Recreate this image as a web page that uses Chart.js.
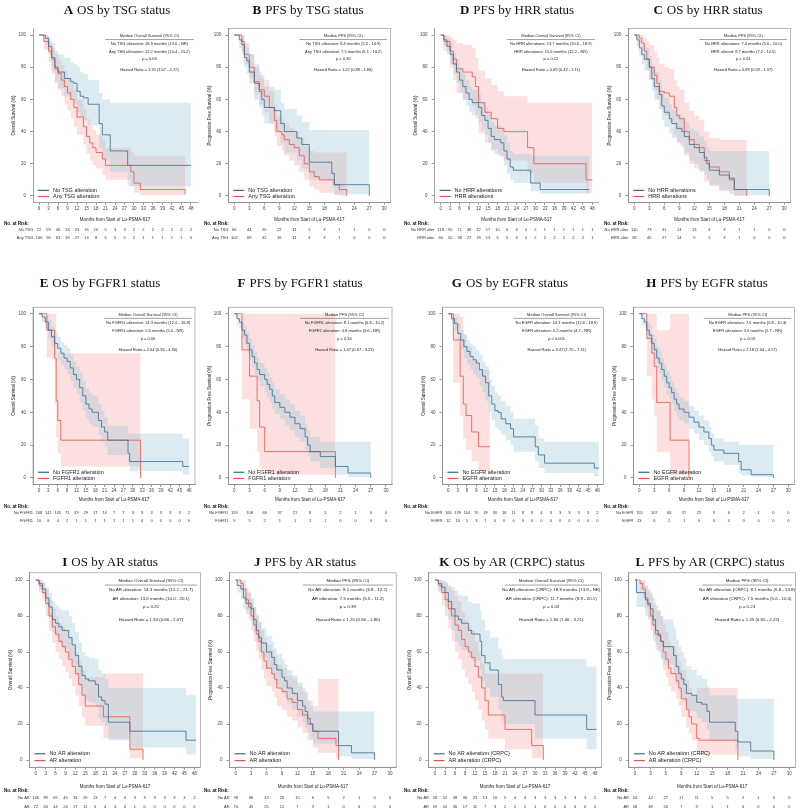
<!DOCTYPE html>
<html>
<head>
<meta charset="utf-8">
<script src="https://cdn.jsdelivr.net/npm/chart.js@4.4.1/dist/chart.umd.min.js"></script>
<style>
  html, body { margin: 0; padding: 0; background: #fff; width: 800px; height: 812px; overflow: hidden; position: relative; }
  canvas { position: absolute; }
  .ttl { position: absolute; font-family: "Liberation Serif", "Times New Roman", serif; font-size: 13px; color: #111;
         white-space: nowrap; transform: translate(-50%, -50%); }
  .ttl b { margin-right: 4px; }
</style>
</head>
<body>
<script>
// axes
const xTicks48 = [0, 3, 6, 9, 12, 15, 18, 21, 24, 27, 30, 33, 36, 39, 42, 45, 48];
const xTicks30 = [0, 3, 6, 9, 12, 15, 18, 21, 24, 27, 30];
const yTicks = [0, 20, 40, 60, 80, 100];

// A  OS by TSG
const tA1 = [0, 2, 3, 4, 5, 6, 8, 10, 11, 12, 13, 14, 15.5, 19, 20, 22.5, 28, 48];
const sA1 = [100, 98, 93, 86, 80, 77, 73, 71, 70, 65, 62, 61, 57, 45, 38, 28, 19, 19];
const loA1 = [100, 94, 88, 78, 71, 67, 62, 60, 57, 52, 49, 47, 44, 30, 22, 15, 6, 6];
const hiA1 = [100, 100, 99, 95, 90, 88, 86, 83, 82, 80, 77, 76, 72, 64, 60, 58, 58, 58];
const tA2 = [0, 1.5, 3, 4, 5, 6, 7, 8, 9, 10, 11, 12, 14, 15, 16, 17, 18, 20, 21, 29, 30, 32, 46.2];
const sA2 = [100, 96, 90, 85, 79, 76, 72, 68, 64, 60, 55, 49, 43, 37, 33, 30, 27, 23, 19, 15, 8, 4, 1];
const loA2 = [100, 91, 83, 76, 70, 66, 62, 57, 53, 48, 43, 38, 32, 26, 22, 19, 17, 13, 10, 6, 2, 0.5, 0];
const hiA2 = [100, 100, 96, 92, 88, 85, 81, 78, 74, 70, 66, 60, 54, 48, 44, 41, 38, 35, 30, 27, 25, 25, 25];
const riskA1 = [72, 59, 46, 34, 23, 16, 10, 5, 3, 3, 2, 2, 2, 2, 2, 2, 2];
const riskA2 = [106, 90, 63, 39, 27, 14, 8, 6, 5, 5, 2, 1, 1, 1, 1, 1, 0];
const annA = ['Median Overall Survival (95% CI)', 'No TSG alteration: 18.9 months (13.6 - NR)', 'Any TSG alteration: 12.2 months (10.4 - 15.2)', 'p = 0.03', 'Hazard Ratio = 1.70 (1.07 - 2.72)'];

// B  PFS by TSG
const tB1 = [0, 1, 1.5, 2, 2.5, 3, 4, 5, 5.5, 6, 8, 9.3, 10, 12.5, 13.5, 15, 19.5, 20, 27];
const sB1 = [100, 97, 94, 86, 84, 77, 70, 65, 60, 55, 53, 45, 40, 36, 32, 21, 14, 7, 0];
const loB1 = [100, 92, 88, 80, 76, 70, 60, 55, 50, 45, 40, 33, 27, 22, 17, 10, 5, 1, 0];
const hiB1 = [100, 100, 99, 94, 92, 88, 82, 77, 73, 68, 66, 58, 54, 50, 46, 41, 41, 41, 41];
const tB2 = [0, 1.5, 2, 3, 4, 5, 6, 7, 8, 8.5, 9.5, 10, 11, 12, 13, 14, 15, 16, 17, 20, 21, 22.5];
const sB2 = [100, 96, 88, 80, 71, 66, 62, 55, 47, 40, 38, 35, 32, 30, 25, 20, 15, 12, 10, 7, 4, 0];
const loB2 = [100, 90, 82, 73, 63, 57, 52, 45, 37, 31, 28, 25, 22, 19, 15, 10, 6, 4, 2, 0.5, 0, 0];
const hiB2 = [100, 100, 95, 88, 80, 75, 72, 65, 57, 50, 48, 45, 42, 40, 36, 31, 28, 27, 27, 27, 27, 27];
const riskB1 = [66, 44, 26, 22, 11, 5, 3, 1, 1, 0, 0];
const riskB2 = [102, 69, 42, 16, 11, 4, 3, 1, 0, 0, 0];
const annB = ['Median PFS (95% CI)', 'No TSG alteration: 8.4 months (5.2 - 14.9)', 'Any TSG alteration: 7.5 months (6.1 - 10.2)', 'p = 0.35', 'Hazard Ratio = 1.22 (0.88 - 1.84)'];

// D  "PFS" by HRR (OS axis)
const tD1 = [0, 1, 2, 3, 4, 5, 6, 7, 8, 9, 10, 12, 13, 14, 15, 16, 17, 19, 20, 21, 22, 23, 28.5, 31.5, 47];
const sD1 = [100, 97, 93, 88, 82, 77, 72, 68, 64, 60, 58, 55, 50, 47, 42, 37, 35, 33, 28, 23, 18, 16, 8, 4, 4];
const loD1 = [100, 93, 88, 82, 76, 70, 64, 60, 56, 52, 50, 46, 41, 38, 33, 28, 26, 24, 19, 14, 10, 8, 3, 1.5, 1.5];
const hiD1 = [100, 100, 98, 94, 89, 85, 80, 76, 72, 68, 66, 63, 58, 55, 51, 46, 44, 42, 38, 33, 28, 26, 25, 25, 25];
const tD2 = [0, 1, 3, 4, 5, 7, 10, 11, 12, 14, 16, 18, 20, 27.5, 29.5, 46, 48];
const sD2 = [100, 96, 90, 85, 79, 77, 74, 68, 58, 52, 48, 42, 40, 30, 20, 10, 10];
const loD2 = [100, 90, 80, 72, 64, 60, 56, 48, 39, 33, 29, 25, 22, 14, 8, 2, 2];
const hiD2 = [100, 100, 99, 97, 95, 94, 92, 86, 78, 73, 69, 65, 62, 58, 58, 58, 58];
const riskD1 = [118, 90, 71, 48, 32, 17, 10, 6, 4, 4, 2, 1, 1, 1, 1, 1, 1];
const riskD2 = [60, 50, 38, 27, 18, 13, 6, 5, 4, 4, 2, 2, 2, 2, 2, 2, 1];
const annD = ['Median Overall Survival (95% CI)', 'No HRR alterations: 13.7 months (10.6 - 18.9)', 'HRR alterations: 15.6 months (12.2 - NR)', 'p = 0.12', 'Hazard Ratio = 0.69 (0.42 - 1.11)'];

// C  "OS" by HRR (PFS axis)
const tC1 = [0, 0.5, 1, 1.5, 2, 3, 3.5, 4, 5, 5.5, 6, 7, 7.5, 8.5, 9.5, 10, 11, 12, 13, 14, 14.5, 15, 17, 19, 20, 27];
const sC1 = [100, 97, 92, 88, 85, 80, 73, 68, 63, 56, 52, 48, 45, 42, 40, 37, 32, 30, 27, 24, 20, 16, 13, 11, 4, 0];
const loC1 = [100, 93, 87, 82, 78, 72, 65, 60, 54, 47, 43, 39, 36, 33, 30, 27, 22, 20, 16, 13, 10, 7, 4, 3, 0.5, 0];
const hiC1 = [100, 100, 97, 94, 92, 87, 81, 77, 72, 65, 61, 57, 54, 51, 49, 46, 42, 40, 37, 34, 30, 28, 28, 28, 28, 28];
const tC2 = [0, 1, 1.5, 2, 2.5, 3, 4, 4.5, 5, 6, 7, 8, 8.5, 9, 10, 11, 12, 13, 14, 15, 17, 19, 20, 22.5];
const sC2 = [100, 98, 95, 90, 85, 80, 75, 70, 65, 64, 62, 55, 50, 48, 40, 35, 32, 30, 22, 18, 15, 10, 4, 0];
const loC2 = [100, 95, 90, 84, 78, 72, 65, 60, 54, 50, 46, 38, 34, 32, 25, 20, 17, 15, 9, 6, 3, 1, 0, 0];
const hiC2 = [100, 100, 100, 98, 96, 94, 90, 86, 82, 80, 79, 72, 68, 66, 58, 53, 50, 47, 40, 36, 35, 35, 35, 35];
const riskC1 = [110, 73, 41, 24, 13, 4, 3, 1, 1, 0, 0];
const riskC2 = [58, 40, 27, 14, 9, 5, 3, 1, 0, 0, 0];
const annC = ['Median PFS (95% CI)', 'No HRR alterations: 7.4 months (5.6 - 10.0)', 'HRR altered: 8.7 months (7.2 - 14.5)', 'p = 0.61', 'Hazard Ratio = 0.89 (0.59 - 1.37)'];

// E  OS by FGFR1
const tE1 = [0, 1, 2, 3, 4, 5, 6, 7, 8, 9, 10, 11, 12, 13, 14, 15, 16, 17, 19, 20, 21, 22, 28.5, 29, 46, 48];
const sE1 = [100, 98, 95, 90, 86, 82, 79, 76, 73, 71, 67, 63, 60, 55, 50, 45, 42, 40, 35, 31, 28, 23, 15, 10, 7, 7];
const loE1 = [100, 95, 91, 85, 80, 76, 72, 69, 66, 63, 59, 55, 51, 46, 41, 36, 33, 31, 26, 22, 19, 14, 8, 4, 2, 2];
const hiE1 = [100, 100, 99, 96, 92, 89, 86, 83, 81, 79, 75, 71, 68, 64, 59, 55, 52, 50, 45, 41, 37, 32, 27, 27, 24, 24];
const tE2 = [0, 2.5, 5, 5.5, 6, 7, 32.5];
const sE2 = [100, 90, 73, 47, 35, 23, 0];
const loE2 = [100, 73, 45, 25, 15, 7, 0];
const hiE2 = [100, 100, 100, 76, 76, 76, 76];
const riskE1 = [168, 141, 105, 71, 49, 29, 17, 10, 7, 7, 3, 3, 3, 3, 3, 3, 2];
const riskE2 = [10, 8, 4, 2, 1, 1, 1, 1, 1, 1, 1, 0, 0, 0, 0, 0, 0];
const annE = ['Median Overall Survival (95% CI)', 'No FGFR1 alteration: 14.3 months (12.6 - 16.8)', 'FGFR1 alteration: 5.6 months (5.0 - NR)', 'p = 0.06', 'Hazard Ratio = 2.04 (0.96 - 4.30)'];

// F  PFS by FGFR1
const tF1 = [0, 0.5, 1, 1.5, 2, 2.5, 3, 3.5, 4, 4.5, 5, 6, 6.5, 7, 7.5, 8, 9, 10, 11, 12, 13, 14, 14.5, 15, 17, 20, 22.5, 27];
const sF1 = [100, 97, 95, 90, 87, 82, 78, 74, 70, 66, 63, 60, 57, 54, 50, 46, 43, 40, 37, 33, 30, 25, 20, 16, 13, 7, 3, 0];
const loF1 = [100, 93, 91, 85, 81, 76, 72, 67, 63, 59, 56, 52, 49, 46, 42, 39, 36, 32, 29, 25, 22, 17, 13, 10, 6, 2, 0.5, 0];
const hiF1 = [100, 100, 99, 95, 93, 89, 85, 81, 77, 73, 70, 67, 64, 61, 58, 54, 51, 48, 45, 41, 38, 33, 29, 25, 22, 22, 22, 22];
const tF2 = [0, 1.5, 3, 4.5, 5, 6, 20];
const sF2 = [100, 78, 62, 47, 31, 16, 0];
const loF2 = [100, 48, 30, 16, 6, 2, 0];
const hiF2 = [100, 100, 100, 100, 100, 100, 100];
const riskF1 = [159, 108, 66, 37, 21, 8, 5, 2, 1, 0, 0];
const riskF2 = [9, 5, 2, 1, 1, 1, 1, 0, 0, 0, 0];
const annF = ['Median PFS (95% CI)', 'No FGFR1 alteration: 8.1 months (6.8 - 10.2)', 'FGFR1 alteration: 4.8 months (3.6 - NR)', 'p = 0.34', 'Hazard Ratio = 1.47 (0.67 - 3.23)'];

// G  OS by EGFR
const tG1 = [0, 1, 2, 3, 4, 5, 6, 7, 8, 9, 10, 11, 12, 13, 14, 15, 16, 17, 18.5, 20, 21, 28, 29, 31, 47, 48.5];
const sG1 = [100, 97, 94, 88, 84, 80, 77, 74, 72, 70, 66, 62, 58, 50, 45, 41, 40, 36, 33, 30, 25, 19, 14, 9, 6, 6];
const loG1 = [100, 94, 90, 84, 78, 73, 69, 66, 63, 61, 56, 52, 47, 40, 35, 31, 29, 26, 23, 20, 16, 10, 6, 3, 1, 1];
const hiG1 = [100, 100, 98, 94, 90, 87, 84, 82, 80, 78, 75, 71, 68, 60, 56, 52, 50, 47, 44, 40, 36, 32, 24, 22, 22, 22];
const tG2 = [0, 1.6, 3.8, 4.8, 5.7, 7.5, 9.7, 13.4];
const sG2 = [100, 84, 62, 45, 38, 28, 19, 19];
const loG2 = [100, 58, 38, 24, 17, 10, 4, 4];
const hiG2 = [100, 100, 98, 88, 80, 72, 66, 66];
const riskG1 = [166, 139, 104, 70, 49, 30, 18, 11, 8, 8, 4, 3, 3, 3, 3, 3, 2];
const riskG2 = [12, 10, 5, 3, 1, 0, 0, 0, 0, 0, 0, 0, 0, 0, 0, 0, 0];
const annG = ['Median Overall Survival (95% CI)', 'No EGFR alteration: 14.3 months (12.6 - 18.9)', 'EGFR alteration: 5.2 months (4.7 - NR)', 'p < 0.001', 'Hazard Ratio = 3.47 (1.70 - 7.11)'];

// H  PFS by EGFR
const tH1 = [0, 0.5, 1, 1.5, 2, 2.5, 3, 3.5, 4, 4.5, 5, 5.5, 6, 6.5, 7, 7.5, 8, 9, 10, 11, 12, 13, 14, 14.5, 15, 17, 20, 20.5, 22.5, 27];
const sH1 = [100, 97, 95, 90, 87, 82, 78, 73, 70, 66, 62, 58, 55, 52, 48, 45, 42, 40, 37, 34, 31, 28, 24, 20, 17, 15, 10, 5, 2, 0];
const loH1 = [100, 93, 91, 85, 82, 76, 72, 67, 63, 59, 55, 51, 48, 45, 41, 38, 35, 33, 30, 27, 23, 20, 16, 13, 10, 8, 3, 1.5, 0.5, 0];
const hiH1 = [100, 100, 99, 95, 93, 88, 85, 80, 77, 73, 69, 65, 62, 59, 55, 52, 49, 47, 44, 41, 38, 35, 31, 27, 24, 22, 20, 20, 20, 20];
const tH2 = [0, 1.5, 2.5, 3, 3.5, 6.2, 10];
const sH2 = [100, 85, 76, 68, 46, 23, 0];
const loH2 = [100, 62, 48, 38, 16, 2, 0];
const hiH2 = [100, 100, 100, 100, 90, 100, 100];
const riskH1 = [155, 107, 66, 37, 22, 9, 6, 2, 1, 0, 0];
const riskH2 = [13, 6, 2, 1, 0, 0, 0, 0, 0, 0, 0];
const annH = ['Median PFS (95% CI)', 'No EGFR alteration: 7.6 months (6.8 - 10.3)', 'EGFR alteration: 3.6 months (2.7 - NR)', 'p = 0.03', 'Hazard Ratio = 2.18 (1.04 - 4.57)'];

// I  OS by AR
const tI1 = [0, 1, 2, 3, 4, 5, 6, 7, 8, 10, 11, 12, 13, 14, 15, 16, 18, 19, 20, 21, 22, 28.5, 45.5, 48.5];
const sI1 = [100, 98, 95, 90, 85, 78, 76, 74, 72, 68, 64, 58, 52, 47, 45, 44, 42, 35, 33, 31, 21, 16, 11, 11];
const loI1 = [100, 95, 92, 86, 80, 71, 68, 65, 62, 57, 53, 47, 41, 36, 33, 32, 30, 23, 21, 19, 11, 7, 3, 3];
const hiI1 = [100, 100, 99, 96, 93, 88, 86, 84, 83, 80, 76, 71, 65, 60, 58, 57, 56, 50, 48, 45, 40, 40, 36, 36];
const tI2 = [0, 1, 2, 3, 4, 5, 6, 7, 8, 9, 10, 11, 12, 13, 14, 15, 20.5, 28.5, 32.5];
const sI2 = [100, 97, 93, 87, 80, 74, 70, 66, 63, 60, 56, 52, 48, 42, 36, 30, 24, 6, 0];
const loI2 = [100, 93, 88, 80, 72, 65, 60, 56, 52, 49, 45, 41, 36, 30, 24, 19, 12, 1, 0];
const hiI2 = [100, 100, 98, 95, 89, 84, 80, 76, 74, 72, 68, 64, 60, 55, 50, 46, 48, 48, 48];
const riskI1 = [106, 89, 65, 49, 33, 19, 13, 7, 4, 4, 3, 3, 3, 3, 3, 3, 2];
const riskI2 = [72, 60, 44, 24, 17, 11, 5, 4, 4, 4, 1, 0, 0, 0, 0, 0, 0];
const annI = ['Median Overall Survival (95% CI)', 'No AR alteration: 14.3 months (12.2 - 21.7)', 'AR alteration: 13.6 months (10.0 - 20.1)', 'p = 0.20', 'Hazard Ratio = 1.34 (0.86 - 2.07)'];

// J  PFS by AR
const tJ1 = [0, 0.3, 1, 1.5, 2, 3, 3.5, 4, 4.5, 5, 6, 7, 7.5, 8, 9, 9.5, 10, 11, 12, 13, 13.5, 14, 14.5, 15, 20, 22.5, 27];
const sJ1 = [100, 97, 95, 90, 87, 84, 78, 72, 68, 65, 60, 57, 53, 50, 46, 44, 40, 37, 33, 30, 27, 23, 20, 16, 8, 4, 0];
const loJ1 = [100, 93, 90, 84, 81, 77, 71, 65, 60, 57, 51, 47, 44, 41, 37, 35, 31, 28, 24, 21, 18, 15, 12, 9, 2, 0.5, 0];
const hiJ1 = [100, 100, 99, 95, 93, 90, 85, 80, 76, 73, 69, 66, 62, 59, 56, 53, 50, 47, 43, 40, 37, 33, 30, 27, 27, 27, 27];
const tJ2 = [0, 1, 1.5, 2, 2.5, 3, 3.5, 4, 4.5, 5, 5.5, 6, 7, 7.5, 8, 9, 10, 11, 12, 13, 14, 15, 16, 19.5, 20];
const sJ2 = [100, 98, 95, 89, 85, 80, 75, 70, 66, 60, 55, 51, 48, 45, 40, 38, 34, 32, 28, 25, 20, 16, 12, 8, 0];
const loJ2 = [100, 94, 90, 83, 78, 72, 66, 61, 56, 50, 45, 41, 38, 35, 30, 28, 24, 22, 18, 15, 11, 7, 4, 1, 0];
const hiJ2 = [100, 100, 100, 96, 93, 89, 85, 81, 77, 72, 68, 64, 61, 58, 53, 51, 47, 45, 41, 38, 33, 30, 45, 45, 45];
const riskJ1 = [98, 68, 43, 26, 15, 6, 5, 2, 1, 0, 0];
const riskJ2 = [70, 45, 25, 12, 7, 3, 1, 0, 0, 0, 0];
const annJ = ['Median PFS (95% CI)', 'No AR alteration: 8.1 months (6.8 - 12.2)', 'AR alteration: 7.5 months (5.5 - 11.2)', 'p = 0.39', 'Hazard Ratio = 1.20 (0.80 - 1.80)'];

// K  OS by AR (CRPC)
const tK1 = [0, 1, 2, 3, 4, 5, 6, 7, 8, 10, 11, 13.5, 14, 15, 16.5, 19, 20, 20.5, 30, 45.5, 48.5];
const sK1 = [100, 98, 96, 93, 88, 84, 80, 78, 76, 72, 70, 66, 58, 54, 50, 42, 35, 33, 25, 17, 17];
const loK1 = [100, 94, 92, 85, 78, 72, 66, 63, 61, 57, 55, 50, 44, 40, 35, 28, 22, 20, 12, 6, 6];
const hiK1 = [100, 100, 100, 99, 97, 96, 94, 92, 91, 88, 87, 83, 78, 72, 68, 62, 58, 56, 56, 52, 52];
const tK2 = [0, 1, 2, 3, 4, 5, 6, 7, 8, 9, 10, 11, 12, 13, 14, 15, 16, 21, 29, 32.5];
const sK2 = [100, 97, 93, 89, 84, 80, 75, 72, 67, 63, 60, 57, 52, 46, 40, 33, 25, 17, 8, 0];
const loK2 = [100, 93, 86, 80, 73, 66, 60, 56, 50, 46, 42, 38, 33, 28, 22, 17, 12, 6, 1, 0];
const hiK2 = [100, 100, 99, 98, 96, 94, 91, 88, 82, 78, 75, 72, 66, 60, 54, 48, 48, 48, 48, 48];
const riskK1 = [58, 52, 38, 30, 23, 13, 10, 5, 4, 4, 3, 3, 3, 3, 3, 3, 2];
const riskK2 = [59, 50, 36, 17, 11, 7, 3, 2, 2, 2, 1, 0, 0, 0, 0, 0, 0];
const annK = ['Median Overall Survival (95% CI)', 'No AR alteration (CRPC): 18.9 months (13.9 - NR)', 'AR alteration (CRPC): 11.7 months (8.9 - 20.1)', 'p = 0.03', 'Hazard Ratio = 1.84 (1.06 - 3.21)'];

// L  PFS by AR (CRPC)
const tL1 = [0, 0.3, 2, 2.5, 3, 3.5, 4, 4.5, 5, 5.5, 7.5, 8, 8.5, 9, 9.5, 10, 11, 12, 13, 14, 14.5, 19.5, 20, 22.5, 27];
const sL1 = [100, 93, 89, 87, 84, 78, 72, 69, 66, 63, 58, 52, 48, 45, 42, 37, 36, 32, 31, 27, 21, 16, 10, 5, 0];
const loL1 = [100, 85, 80, 78, 75, 69, 64, 60, 57, 53, 48, 42, 38, 35, 32, 28, 27, 23, 21, 17, 11, 6, 2, 0.5, 0];
const hiL1 = [100, 99, 97, 95, 93, 90, 86, 83, 80, 78, 73, 67, 63, 60, 57, 52, 50, 47, 45, 41, 36, 34, 34, 34, 34];
const tL2 = [0, 1, 1.5, 2, 2.5, 3, 3.5, 4, 5, 5.5, 6, 6.5, 7, 8, 8.5, 9, 10, 10.5, 11, 12, 12.5, 20];
const sL2 = [100, 98, 95, 90, 86, 80, 75, 70, 66, 60, 56, 51, 48, 44, 40, 34, 28, 24, 20, 12, 11, 0];
const loL2 = [100, 94, 90, 84, 79, 72, 66, 61, 56, 50, 46, 41, 38, 34, 30, 24, 18, 15, 11, 5, 3, 0];
const hiL2 = [100, 100, 100, 97, 94, 91, 87, 83, 80, 75, 71, 66, 63, 59, 55, 50, 44, 40, 36, 40, 40, 40];
const riskL1 = [54, 42, 27, 17, 11, 5, 5, 2, 1, 0, 0];
const riskL2 = [58, 38, 20, 7, 3, 1, 1, 0, 0, 0, 0];
const annL = ['Median PFS (95% CI)', 'No AR alteration (CRPC): 8.1 months (6.8 - 13.9)', 'AR alteration (CRPC): 7.5 months (5.6 - 10.0)', 'p = 0.23', 'Hazard Ratio = 1.35 (0.82 - 2.22)'];

// legends / risk row names
const legTSG = ['No TSG alteration', 'Any TSG alteration'];
const legHRR = ['No HRR alterations', 'HRR alterations'];
const legFGFR = ['No FGFR1 alteration', 'FGFR1 alteration'];
const legEGFR = ['No EGFR alteration', 'EGFR alteration'];
const legAR = ['No AR alteration', 'AR alteration'];
const legCRPC = ['No AR alteration (CRPC)', 'AR alteration (CRPC)'];
const OS_T = 'Overall Survival (%)';
const PFS_T = 'Progression Free Survival (%)';
const X_T = 'Months from Start of Lu-PSMA-617';

const SANS = '"Liberation Sans", Arial, sans-serif';
const BLUE = '#3b6b8b';
const RED = '#e4564d';
const BLUE_BAND = 'rgba(160, 202, 218, 0.38)';
const RED_BAND = 'rgba(246, 150, 150, 0.30)';

// row geometry (local to each row)
const rows = [
  { y: 0, h: 270, top: 28.6, bottom: 202.4, titleY: 10, xTitleY: 220, headY: 224, r1: 230, r2: 238 },
  { y: 270, h: 270, top: 37.2, bottom: 214.5, titleY: 13, xTitleY: 230, headY: 237, r1: 243, r2: 251 },
  { y: 540, h: 272, top: 32.8, bottom: 227.2, titleY: 22, xTitleY: 247, headY: 251, r1: 258, r2: 267 }
];

const panels = [
  { id: 'A', title: 'OS by TSG status', row: 0, col: 0, L: 33, R: 197, tx: 117, box: false, xt: xTicks48, yt: OS_T,
    c1: [tA1, sA1, loA1, hiA1], c2: [tA2, sA2, loA2, hiA2], risk: [riskA1, riskA2], rl: ['No TSG', 'Any TSG'], leg: legTSG, ann: annA },
  { id: 'B', title: 'PFS by TSG status', row: 0, col: 200, L: 28.3, R: 190.3, tx: 308, box: true, xt: xTicks30, yt: PFS_T,
    c1: [tB1, sB1, loB1, hiB1], c2: [tB2, sB2, loB2, hiB2], risk: [riskB1, riskB2], rl: ['No TSG', 'Any TSG'], leg: legTSG, ann: annB },
  { id: 'D', title: 'PFS by HRR status', row: 0, col: 400, L: 34.6, R: 198.4, tx: 517, box: false, xt: xTicks48, yt: OS_T,
    c1: [tD1, sD1, loD1, hiD1], c2: [tD2, sD2, loD2, hiD2], risk: [riskD1, riskD2], rl: ['No HRR alter', 'HRR alter'], leg: legHRR, ann: annD },
  { id: 'C', title: 'OS by HRR status', row: 0, col: 600, L: 28.3, R: 190.3, tx: 708, box: true, xt: xTicks30, yt: PFS_T,
    c1: [tC1, sC1, loC1, hiC1], c2: [tC2, sC2, loC2, hiC2], risk: [riskC1, riskC2], rl: ['No HRR alter', 'HRR alter'], leg: legHRR, ann: annC },
  { id: 'E', title: 'OS by FGFR1 status', row: 1, col: 0, L: 33, R: 195, tx: 100, box: true, xt: xTicks48, yt: OS_T,
    c1: [tE1, sE1, loE1, hiE1], c2: [tE2, sE2, loE2, hiE2], risk: [riskE1, riskE2], rl: ['No FGFR1', 'FGFR1'], leg: legFGFR, ann: annE },
  { id: 'F', title: 'PFS by FGFR1 status', row: 1, col: 200, L: 28.3, R: 192, tx: 300, box: true, xt: xTicks30, yt: PFS_T,
    c1: [tF1, sF1, loF1, hiF1], c2: [tF2, sF2, loF2, hiF2], risk: [riskF1, riskF2], rl: ['No FGFR1', 'FGFR1'], leg: legFGFR, ann: annF },
  { id: 'G', title: 'OS by EGFR status', row: 1, col: 400, L: 42.4, R: 203.3, tx: 510, box: true, xt: xTicks48, yt: OS_T,
    c1: [tG1, sG1, loG1, hiG1], c2: [tG2, sG2, loG2, hiG2], risk: [riskG1, riskG2], rl: ['No EGFR', 'EGFR'], leg: legEGFR, ann: annG },
  { id: 'H', title: 'PFS by EGFR status', row: 1, col: 600, L: 33.4, R: 194.3, tx: 707, box: true, xt: xTicks30, yt: PFS_T,
    c1: [tH1, sH1, loH1, hiH1], c2: [tH2, sH2, loH2, hiH2], risk: [riskH1, riskH2], rl: ['No EGFR', 'EGFR'], leg: legEGFR, ann: annH },
  { id: 'I', title: 'OS by AR status', row: 2, col: 0, L: 29.4, R: 200.6, tx: 110, box: true, xt: xTicks48, yt: OS_T,
    c1: [tI1, sI1, loI1, hiI1], c2: [tI2, sI2, loI2, hiI2], risk: [riskI1, riskI2], rl: ['No AR', 'AR'], leg: legAR, ann: annI },
  { id: 'J', title: 'PFS by AR status', row: 2, col: 200, L: 29.5, R: 196.2, tx: 305, box: true, xt: xTicks30, yt: PFS_T,
    c1: [tJ1, sJ1, loJ1, hiJ1], c2: [tJ2, sJ2, loJ2, hiJ2], risk: [riskJ1, riskJ2], rl: ['No AR', 'AR'], leg: legAR, ann: annJ },
  { id: 'K', title: 'OS by AR (CRPC) status', row: 2, col: 400, L: 28.6, R: 201.4, tx: 512, box: true, xt: xTicks48, yt: OS_T,
    c1: [tK1, sK1, loK1, hiK1], c2: [tK2, sK2, loK2, hiK2], risk: [riskK1, riskK2], rl: ['No AR', 'AR'], leg: legCRPC, ann: annK },
  { id: 'L', title: 'PFS by AR (CRPC) status', row: 2, col: 600, L: 28.8, R: 195.5, tx: 710, box: true, xt: xTicks30, yt: PFS_T,
    c1: [tL1, sL1, loL1, hiL1], c2: [tL2, sL2, loL2, hiL2], risk: [riskL1, riskL2], rl: ['No AR', 'AR'], leg: legCRPC, ann: annL }
];

const pts = (t, v) => t.map((x, i) => ({ x, y: v[i] }));

function curve(c, color) {
  return { data: pts(c[0], c[1]), stepped: true, borderColor: color, borderWidth: 0.8, pointRadius: 0, fill: false, order: 0 };
}
function bandTop(c, color) {
  return { data: pts(c[0], c[3]), stepped: true, borderWidth: 0, pointRadius: 0, backgroundColor: color, fill: '+1', order: 1 };
}
function bandLow(c) {
  return { data: pts(c[0], c[2]), stepped: true, borderWidth: 0, pointRadius: 0, fill: false, order: 1 };
}

function decor(p, row) {
  return {
    id: 'decor' + p.id,
    afterDraw(chart) {
      const ctx = chart.ctx, ca = chart.chartArea, xs = chart.scales.x;
      const w = ca.right - ca.left, h = ca.bottom - ca.top;
      ctx.save();
      if (p.box) {
        ctx.strokeStyle = '#8a8a8a'; ctx.lineWidth = 0.6;
        ctx.strokeRect(ca.left, ca.top, w, h);
      }
      // median box text
      const big = p.row === 2 ? 4.4 : 4;
      const cx = ca.left + w * 0.71;
      ctx.fillStyle = '#222'; ctx.textAlign = 'center'; ctx.textBaseline = 'middle';
      ctx.font = big + 'px ' + SANS;
      const fr = [0.043, 0.087, 0.135, 0.177, 0.24];
      p.ann.forEach((s, i) => ctx.fillText(s, cx, ca.top + h * fr[i]));
      ctx.strokeStyle = '#444'; ctx.lineWidth = 0.5;
      ctx.beginPath();
      ctx.moveTo(ca.left + w * 0.44, ca.top + h * 0.063);
      ctx.lineTo(ca.left + w * 0.98, ca.top + h * 0.063);
      ctx.stroke();
      // legend
      ctx.font = '5.5px ' + SANS; ctx.textAlign = 'left';
      [[BLUE, 0.069], [RED, 0.034]].forEach(([col, f], i) => {
        const y = ca.bottom - h * f;
        ctx.strokeStyle = col; ctx.lineWidth = 1.2;
        ctx.beginPath(); ctx.moveTo(ca.left + 5, y); ctx.lineTo(ca.left + 16, y); ctx.stroke();
        ctx.fillStyle = '#222'; ctx.fillText(p.leg[i], ca.left + 20, y);
      });
      // axis titles
      ctx.font = '4.5px ' + SANS; ctx.fillStyle = '#222'; ctx.textAlign = 'center';
      ctx.fillText(X_T, ca.left + w / 2, row.xTitleY);
      ctx.save();
      ctx.translate(ca.left - 19, ca.top + h / 2); ctx.rotate(-Math.PI / 2);
      ctx.fillText(p.yt, 0, 0);
      ctx.restore();
      // numbers at risk
      ctx.font = 'bold 4.5px ' + SANS; ctx.textAlign = 'left'; ctx.fillStyle = '#111';
      ctx.fillText('No. at Risk:', 4, row.headY);
      ctx.font = '4px ' + SANS; ctx.fillStyle = '#333';
      p.risk.forEach((arr, k) => {
        const y = k ? row.r2 : row.r1;
        ctx.textAlign = 'right';
        ctx.fillText(p.rl[k], xs.getPixelForValue(0) - 6, y);
        ctx.textAlign = 'center';
        arr.forEach((n, i) => ctx.fillText(String(n), xs.getPixelForValue(p.xt[i]), y));
      });
      ctx.restore();
    }
  };
}

function makePanel(p) {
  const row = rows[p.row];
  const W = p.col === 600 ? 200 : 210;
  const YW = 20, XH = 12;
  const cv = document.createElement('canvas');
  cv.width = W; cv.height = row.h;
  cv.style.left = p.col + 'px'; cv.style.top = row.y + 'px';
  document.body.appendChild(cv);
  const xMax = p.xt[p.xt.length - 1];
  const pad = xMax * 0.04;
  const tickFont = { family: SANS, size: 4.5 };

  new Chart(cv, {
    type: 'line',
    data: {
      datasets: [
        curve(p.c1, BLUE), curve(p.c2, RED),
        bandTop(p.c1, BLUE_BAND), bandLow(p.c1),
        bandTop(p.c2, RED_BAND), bandLow(p.c2)
      ]
    },
    options: {
      responsive: false,
      animation: false,
      devicePixelRatio: 1,
      layout: { padding: { left: p.L - YW, right: W - p.R, top: row.top, bottom: row.h - row.bottom - XH } },
      plugins: { legend: { display: false }, tooltip: { enabled: false } },
      scales: {
        x: {
          type: 'linear', min: -pad, max: xMax + pad,
          afterBuildTicks: s => { s.ticks = p.xt.map(v => ({ value: v })); },
          afterFit: s => { s.height = XH; s.paddingLeft = 0; s.paddingRight = 0; },
          grid: { drawOnChartArea: false, drawTicks: true, tickLength: 2.5, color: '#555', lineWidth: 0.6 },
          border: { display: true, color: '#666', width: 0.6 },
          ticks: { font: tickFont, color: '#444', padding: 1, maxRotation: 0, autoSkip: false }
        },
        y: {
          min: -4, max: 104,
          afterBuildTicks: s => { s.ticks = yTicks.map(v => ({ value: v })); },
          afterFit: s => { s.width = YW; s.paddingTop = 0; s.paddingBottom = 0; },
          grid: { drawOnChartArea: false, drawTicks: true, tickLength: 3, color: '#555', lineWidth: 0.6 },
          border: { display: true, color: '#666', width: 0.6 },
          ticks: { font: tickFont, color: '#444', padding: 4 }
        }
      }
    },
    plugins: [decor(p, row)]
  });

  const t = document.createElement('div');
  t.className = 'ttl';
  t.style.left = p.tx + 'px';
  t.style.top = (row.y + row.titleY) + 'px';
  t.innerHTML = '<b>' + p.id + '</b>' + p.title;
  document.body.appendChild(t);
}

panels.forEach(makePanel);
</script>
</body>
</html>
